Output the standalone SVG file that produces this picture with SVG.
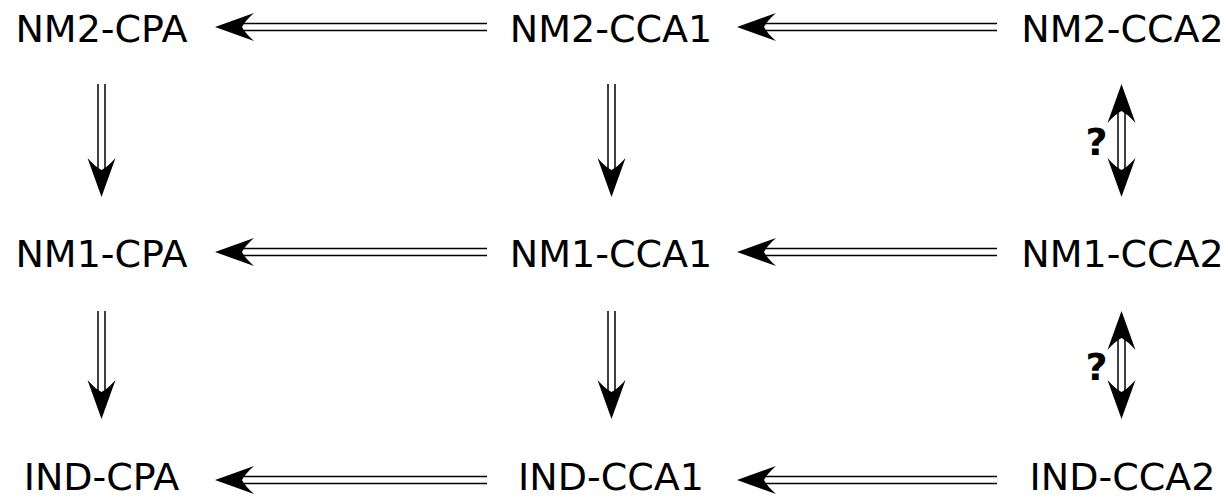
<svg xmlns="http://www.w3.org/2000/svg" xmlns:xlink="http://www.w3.org/1999/xlink" width="1228" height="499" viewBox="0 0 1228 499">
<style>
.lbl{font-family:"DejaVu Sans","Liberation Sans",sans-serif;font-size:38px;fill:#000;text-anchor:middle}
.q{font-family:"DejaVu Sans","Liberation Sans",sans-serif;font-size:38px;font-weight:bold;fill:#000;text-anchor:middle}
.ln{stroke:#000;stroke-width:1.5;fill:none}
</style>
<defs>
<path id="head" d="M0,0 L39,-14 Q30,-6 27,0 Q30,6 39,14 Z" fill="#000"/>
</defs>
<rect width="1228" height="499" fill="#fff"/>
<g id="connectors">
<g id="h-r1-a"><line class="ln" x1="236" y1="23.5" x2="487" y2="23.5"/><line class="ln" x1="236" y1="30.5" x2="487" y2="30.5"/><use xlink:href="#head" transform="translate(215,27)"/></g>
<g id="h-r1-b"><line class="ln" x1="758" y1="23.5" x2="997" y2="23.5"/><line class="ln" x1="758" y1="30.5" x2="997" y2="30.5"/><use xlink:href="#head" transform="translate(737,27)"/></g>
<g id="h-r2-a"><line class="ln" x1="236" y1="248.5" x2="487" y2="248.5"/><line class="ln" x1="236" y1="255.5" x2="487" y2="255.5"/><use xlink:href="#head" transform="translate(215,252)"/></g>
<g id="h-r2-b"><line class="ln" x1="758" y1="248.5" x2="997" y2="248.5"/><line class="ln" x1="758" y1="255.5" x2="997" y2="255.5"/><use xlink:href="#head" transform="translate(737,252)"/></g>
<g id="h-r3-a"><line class="ln" x1="236" y1="476.5" x2="487" y2="476.5"/><line class="ln" x1="236" y1="483.5" x2="487" y2="483.5"/><use xlink:href="#head" transform="translate(215,480)"/></g>
<g id="h-r3-b"><line class="ln" x1="758" y1="476.5" x2="997" y2="476.5"/><line class="ln" x1="758" y1="483.5" x2="997" y2="483.5"/><use xlink:href="#head" transform="translate(737,480)"/></g>
<g id="v-c1-a"><line class="ln" x1="98" y1="84" x2="98" y2="176"/><line class="ln" x1="105" y1="84" x2="105" y2="176"/><use xlink:href="#head" transform="translate(101.5,197) rotate(-90)"/></g>
<g id="v-c2-a"><line class="ln" x1="608" y1="84" x2="608" y2="176"/><line class="ln" x1="615" y1="84" x2="615" y2="176"/><use xlink:href="#head" transform="translate(611.5,197) rotate(-90)"/></g>
<g id="v-c3-a"><line class="ln" x1="1118" y1="105" x2="1118" y2="176"/><line class="ln" x1="1125" y1="105" x2="1125" y2="176"/><use xlink:href="#head" transform="translate(1121.5,84) rotate(90)"/><use xlink:href="#head" transform="translate(1121.5,197) rotate(-90)"/>
<text class="q" x="1096.5" y="155">?</text></g>
<g id="v-c1-b"><line class="ln" x1="98" y1="311" x2="98" y2="398"/><line class="ln" x1="105" y1="311" x2="105" y2="398"/><use xlink:href="#head" transform="translate(101.5,419) rotate(-90)"/></g>
<g id="v-c2-b"><line class="ln" x1="608" y1="311" x2="608" y2="398"/><line class="ln" x1="615" y1="311" x2="615" y2="398"/><use xlink:href="#head" transform="translate(611.5,419) rotate(-90)"/></g>
<g id="v-c3-b"><line class="ln" x1="1118" y1="332" x2="1118" y2="398"/><line class="ln" x1="1125" y1="332" x2="1125" y2="398"/><use xlink:href="#head" transform="translate(1121.5,311) rotate(90)"/><use xlink:href="#head" transform="translate(1121.5,419) rotate(-90)"/>
<text class="q" x="1096.5" y="380">?</text></g>
</g>
<g id="nm2-cpa"><text class="lbl" x="101.5" y="41.7">NM2-CPA</text></g>
<g id="nm2-cca1"><text class="lbl" x="611" y="41.7">NM2-CCA1</text></g>
<g id="nm2-cca2"><text class="lbl" x="1122.5" y="41.7">NM2-CCA2</text></g>
<g id="nm1-cpa"><text class="lbl" x="101.5" y="266.5">NM1-CPA</text></g>
<g id="nm1-cca1"><text class="lbl" x="611" y="266.5">NM1-CCA1</text></g>
<g id="nm1-cca2"><text class="lbl" x="1122.5" y="266.5">NM1-CCA2</text></g>
<g id="ind-cpa"><text class="lbl" x="101.5" y="490">IND-CPA</text></g>
<g id="ind-cca1"><text class="lbl" x="611" y="490">IND-CCA1</text></g>
<g id="ind-cca2"><text class="lbl" x="1122.5" y="490">IND-CCA2</text></g>
</svg>
